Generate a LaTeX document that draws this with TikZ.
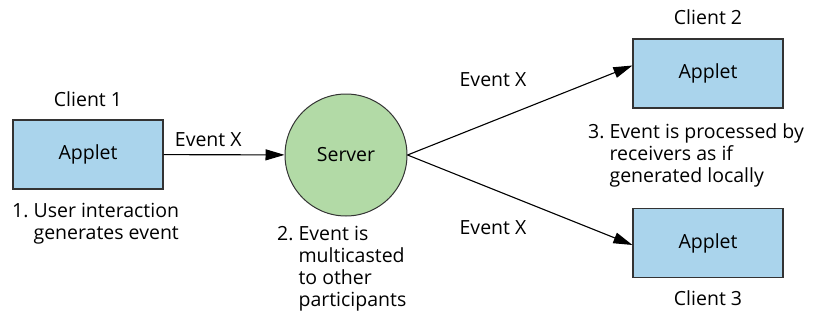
\documentclass[tikz,border=0pt]{standalone}
\usepackage{fontspec}
\setmainfont{Open Sans}
\usetikzlibrary{arrows.meta, positioning}
\definecolor{appletblue}{RGB}{170,212,236}
\definecolor{servergreen}{RGB}{178,218,166}

\begin{document}
\begin{tikzpicture}[
  x=1pt, y=-1pt,
  font=\fontsize{19.5}{22}\selectfont,
  applet/.style={rectangle, minimum width=150pt, minimum height=69pt,
    draw=black!80, line width=1.1pt, fill=appletblue, text centered},
  server/.style={circle, minimum size=122pt, inner sep=0pt,
    draw=black!80, line width=1pt, fill=servergreen},
  caption/.style={align=left, anchor=north west, inner sep=0pt},
  arrow/.style={-{Triangle[length=19pt, width=11pt]}, line width=1.1pt}
]
\useasboundingbox (0,0) rectangle (825,322);

\node (server) [server] at (346,155) {Server};
\node (app1) [applet] at (88,154.5) {Applet};
\node (app2) [applet] at (708,73.5) {Applet};
\node (app3) [applet] at (708,243) {Applet};

\node (client1) [above=9pt of app1] {Client 1};
\node (client2) [above=10pt of app2] {Client 2};
\node (client3) [below=9pt of app3] {Client 3};

\node (note1) [caption] at (12,203) {1.~User interaction\\\phantom{1.~}generates event};
\node (note2) [caption] at (277,226) {2.~Event is\\\phantom{2.~}multicasted\\\phantom{2.~}to other\\\phantom{2.~}participants};
\node (note3) [caption] at (588,123) {3.~Event is processed by\\\phantom{3.~}receivers as if\\\phantom{3.~}generated locally};

\draw [arrow] (app1) -- node[above=4pt, pos=0.37]{Event X} (server);
\draw [arrow] (server.east) -- ([yshift=8pt]app2.west);
\draw [arrow] (server.east) -- ([yshift=-2pt]app3.west);

\node (evt2) at (493,80) {Event X};
\node (evt3) at (493,228) {Event X};

\end{tikzpicture}
\end{document}
